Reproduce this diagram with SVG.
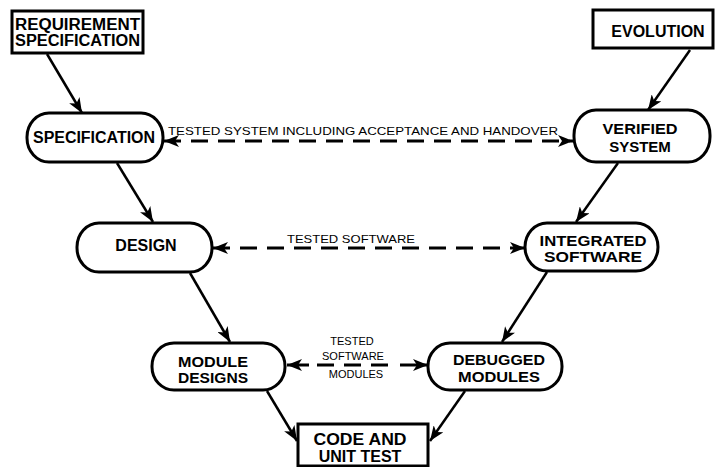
<svg xmlns="http://www.w3.org/2000/svg" width="717" height="467" viewBox="0 0 717 467">
  <style>
    .box { fill: #fff; stroke: #000; stroke-width: 3; }
    .pill { fill: #fff; stroke: #000; stroke-width: 3; }
    .t { font-family: "Liberation Sans", Arial, sans-serif; font-weight: bold; font-size: 16px; fill: #000; text-anchor: middle; }
    .t2 { font-size: 15px; }
    .lbl { font-family: "Liberation Sans", Arial, sans-serif; font-size: 11px; fill: #000; text-anchor: middle; }
    .flow { stroke: #000; stroke-width: 2.5; fill: none; marker-end: url(#head); }
    .dash { stroke: #000; stroke-width: 3; fill: none; stroke-dasharray: 17 10; }
    .both { marker-start: url(#head); marker-end: url(#head); }
  </style>
  <defs>
    <marker id="head" markerUnits="userSpaceOnUse" markerWidth="16" markerHeight="12" refX="15" refY="6" orient="auto-start-reverse">
      <path d="M0,0 L15,6 L0,12 L4,6 z" fill="#000"/>
    </marker>
  </defs>

  <rect width="717" height="467" fill="#fff"/>

  <!-- connectors -->
  <g id="connectors">
    <line class="flow" x1="47" y1="54" x2="82" y2="113"/>
    <line class="flow" x1="117" y1="163" x2="153" y2="222"/>
    <line class="flow" x1="190" y1="273" x2="230" y2="342"/>
    <line class="flow" x1="267" y1="391" x2="297" y2="441"/>
    <line class="flow" x1="690" y1="50" x2="648" y2="110"/>
    <line class="flow" x1="618" y1="163" x2="576" y2="222"/>
    <line class="flow" x1="547" y1="272" x2="502" y2="342"/>
    <line class="flow" x1="465" y1="391" x2="430" y2="441"/>

    <line class="dash both" x1="164" y1="141" x2="573" y2="141"/>
    <text class="lbl" x="363" y="135" textLength="390" lengthAdjust="spacingAndGlyphs">TESTED SYSTEM INCLUDING ACCEPTANCE AND HANDOVER</text>

    <line class="dash both" x1="213" y1="248" x2="525" y2="248"/>
    <text class="lbl" x="351" y="243" textLength="128" lengthAdjust="spacingAndGlyphs">TESTED SOFTWARE</text>

    <line x1="287" y1="365" x2="309" y2="365" stroke="#000" stroke-width="3" marker-start="url(#head)"/>
    <line x1="317" y1="365" x2="391" y2="365" class="dash"/>
    <line x1="400" y1="365" x2="428" y2="365" stroke="#000" stroke-width="3" marker-end="url(#head)"/>
    <text class="lbl" x="352" y="345">TESTED</text>
    <text class="lbl" x="353" y="360">SOFTWARE</text>
    <text class="lbl" x="356" y="378">MODULES</text>
  </g>

  <g id="requirement-specification">
    <rect class="box" x="12" y="11" width="131" height="42"/>
    <text class="t" x="77.5" y="30" font-size="16" textLength="125" lengthAdjust="spacingAndGlyphs">REQUIREMENT</text>
    <text class="t" x="77.5" y="46" font-size="16" textLength="125" lengthAdjust="spacingAndGlyphs">SPECIFICATION</text>
  </g>

  <g id="evolution">
    <rect class="box" x="593" y="10" width="120" height="38"/>
    <text class="t" x="658" y="37" font-size="15.5">EVOLUTION</text>
  </g>

  <g id="specification">
    <rect class="pill" x="27" y="113" width="136" height="49" rx="22" ry="24"/>
    <text class="t" x="94" y="143" textLength="122" lengthAdjust="spacingAndGlyphs">SPECIFICATION</text>
  </g>

  <g id="verified-system">
    <rect class="pill" x="574" y="110" width="136" height="52" rx="22" ry="25"/>
    <text class="t t2" x="640" y="134" textLength="75" lengthAdjust="spacingAndGlyphs">VERIFIED</text>
    <text class="t t2" x="640" y="152">SYSTEM</text>
  </g>

  <g id="design">
    <rect class="pill" x="77" y="223" width="135" height="49" rx="22" ry="24"/>
    <text class="t" x="146" y="251">DESIGN</text>
  </g>

  <g id="integrated-software">
    <rect class="pill" x="525" y="223" width="133" height="48" rx="22" ry="24"/>
    <text class="t t2" x="593" y="246" textLength="107" lengthAdjust="spacingAndGlyphs">INTEGRATED</text>
    <text class="t t2" x="593" y="262" textLength="98" lengthAdjust="spacingAndGlyphs">SOFTWARE</text>
  </g>

  <g id="module-designs">
    <rect class="pill" x="152" y="343" width="133" height="47" rx="22" ry="23"/>
    <text class="t t2" x="213" y="367" textLength="70" lengthAdjust="spacingAndGlyphs">MODULE</text>
    <text class="t t2" x="213" y="383" textLength="70" lengthAdjust="spacingAndGlyphs">DESIGNS</text>
  </g>

  <g id="debugged-modules">
    <rect class="pill" x="428" y="343" width="134" height="47" rx="22" ry="23"/>
    <text class="t t2" x="499" y="365" textLength="92" lengthAdjust="spacingAndGlyphs">DEBUGGED</text>
    <text class="t t2" x="499" y="382" textLength="82" lengthAdjust="spacingAndGlyphs">MODULES</text>
  </g>

  <g id="code-and-unit-test">
    <rect class="box" x="298" y="424" width="130" height="42"/>
    <text class="t" x="360" y="445" font-size="16.5" textLength="93" lengthAdjust="spacingAndGlyphs">CODE AND</text>
    <text class="t" x="360" y="462" font-size="16.5">UNIT TEST</text>
  </g>
</svg>
